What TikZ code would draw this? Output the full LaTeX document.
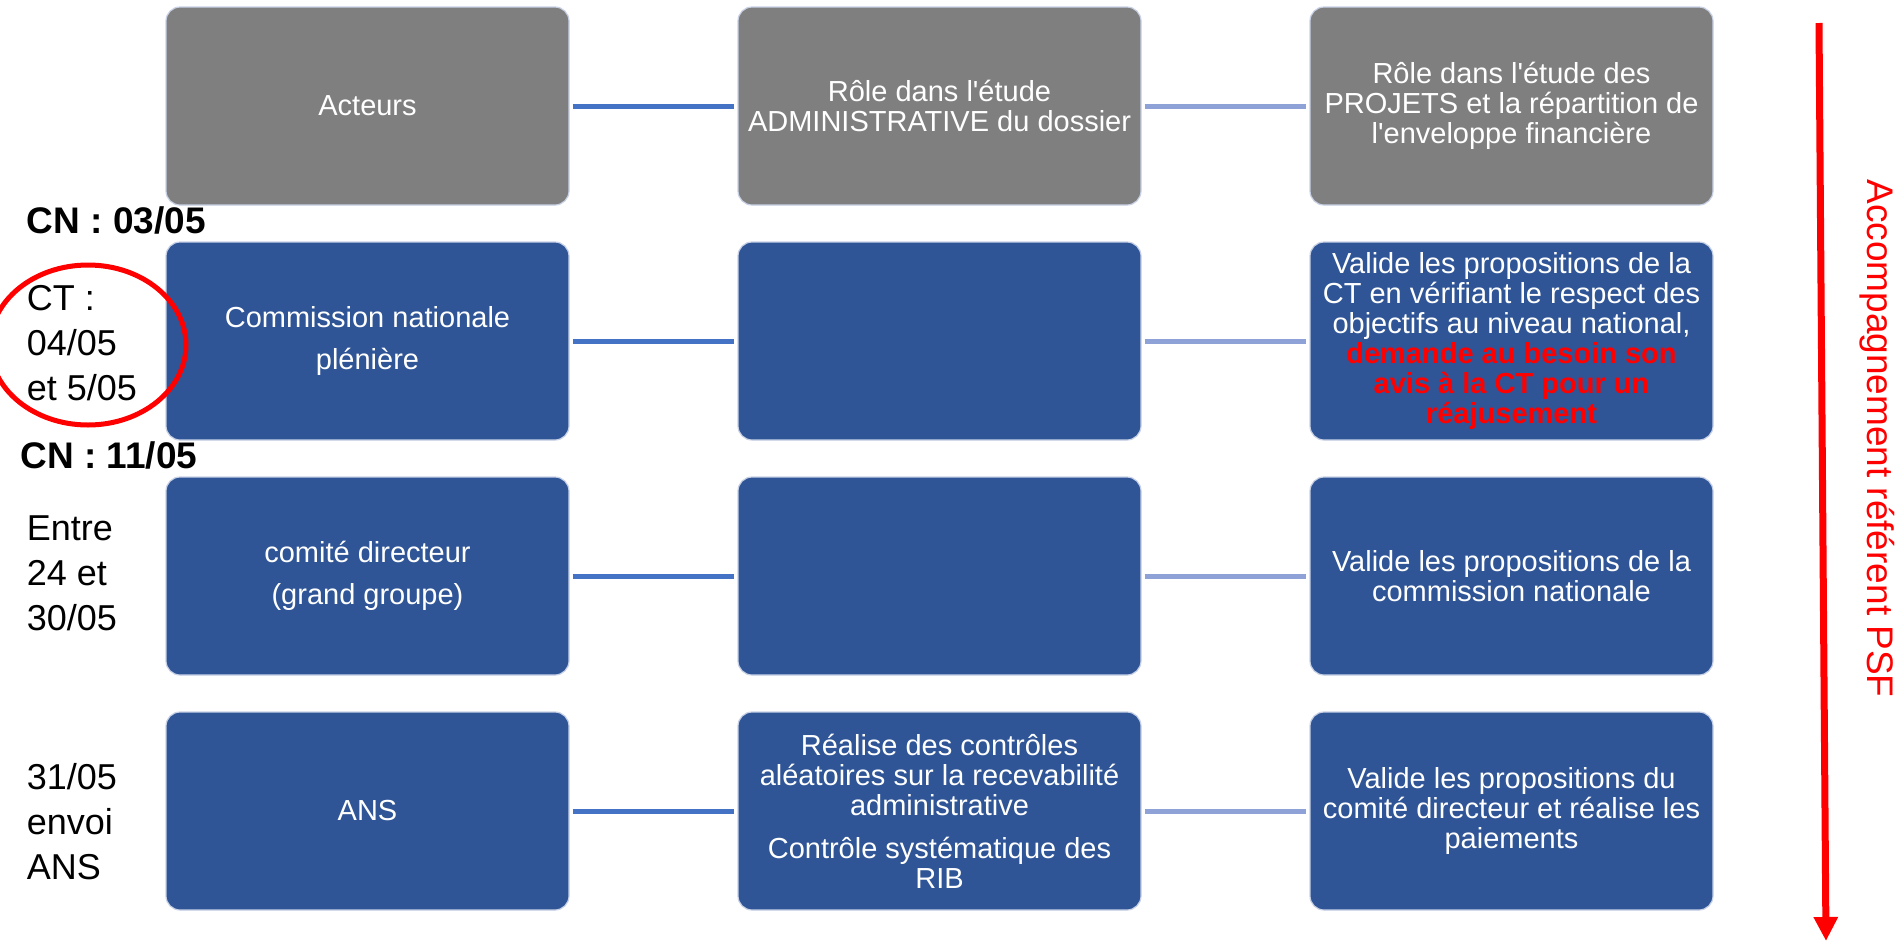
\documentclass[tikz,border=0pt]{standalone}
\usepackage{fontspec}
\setmainfont{Liberation Sans}
\usetikzlibrary{arrows.meta,shapes.geometric}
\definecolor{boxgray}{HTML}{7F7F7F}
\definecolor{boxblue}{HTML}{2F5597}
\definecolor{edgec}{HTML}{C8D1E6}
\definecolor{connA}{HTML}{4472C4}
\definecolor{connB}{HTML}{8FA2D8}
\begin{document}
\begin{tikzpicture}[x=0.5pt,y=-0.5pt,
 card/.style={rectangle, rounded corners=7pt, minimum width=201.5pt, minimum height=99pt, inner sep=0pt, draw=edgec, line width=0.6pt, text=white, align=center, font=\fontsize{14.5}{15}\selectfont},
 graycard/.style={card, fill=boxgray},
 bluecard/.style={card, fill=boxblue},
 actor/.style={font=\fontsize{14.5}{21}\selectfont},
 linkA/.style={draw=connA, line width=2.5pt, shorten <=1.5pt, shorten >=1.5pt},
 linkB/.style={draw=connB, line width=2.5pt, shorten <=1.5pt, shorten >=1.5pt},
 datelbl/.style={anchor=north west, inner sep=0pt, align=left, font=\fontsize{18}{22.5}\selectfont},
 cnlbl/.style={anchor=base west, inner sep=0pt, font=\bfseries\fontsize{18.5}{22}\selectfont},
 redtxt/.style={text=red, font=\fontsize{18.5}{22}\selectfont},
]
\useasboundingbox (0,0) rectangle (1903,943);

% row 1
\node[graycard] (a1) at (367.5,106) {Acteurs};
\node[graycard] (b1) at (939.5,106) {Rôle dans l\textquotesingle étude\\ADMINISTRATIVE du dossier};
\node[graycard] (c1) at (1511.5,106) {Rôle dans l\textquotesingle étude des\\PROJETS et la répartition de\\l\textquotesingle enveloppe financière};
% row 2
\node[bluecard, actor] (a2) at (367.5,341) {Commission nationale\\plénière};
\node[bluecard] (b2) at (939.5,341) {};
\node[bluecard] (c2) at (1511.5,341) {Valide les propositions de la\\CT en vérifiant le respect des\\objectifs au niveau national,\\\textcolor{red}{\textbf{demande au besoin son}}\\\textcolor{red}{\textbf{avis à la CT pour un}}\\\textcolor{red}{\textbf{réajusement}}};
% row 3
\node[bluecard, actor] (a3) at (367.5,576) {comité directeur\\(grand groupe)};
\node[bluecard] (b3) at (939.5,576) {};
\node[bluecard] (c3) at (1511.5,576) {Valide les propositions de la\\commission nationale};
% row 4
\node[bluecard, actor] (a4) at (367.5,811) {ANS};
\node[bluecard] (b4) at (939.5,811) {Réalise des contrôles\\aléatoires sur la recevabilité\\administrative\\[6.5pt]Contrôle systématique des\\RIB};
\node[bluecard] (c4) at (1511.5,811) {Valide les propositions du\\comité directeur et réalise les\\paiements};

% connectors
\foreach \r in {1,2,3,4}{
  \draw[linkA] (a\r.east) -- (b\r.west);
  \draw[linkB] (b\r.east) -- (c\r.west);
}

% left labels
\node[cnlbl] (cn1) at (26.5,233) {CN : 03/05};
\node[cnlbl] (cn2) at (20,468) {CN : 11/05};
\node[datelbl] (ct) at (26.5,285) {CT :\\04/05\\et 5/05};
\node[datelbl] (entre) at (26.5,515) {Entre\\24 et\\30/05};
\node[datelbl] (envoi) at (26.5,763) {31/05\\envoi\\ANS};
\node[draw=red, line width=2.5pt, ellipse, minimum width=98pt, minimum height=80pt, inner sep=0pt] (ring) at (88,345) {};

% right arrow and label
\coordinate (arrtop) at (1819,23);
\coordinate (arrbot) at (1826,941);
\draw[red, line width=3.5pt, -{Triangle[width=11.5pt,length=12pt]}] (arrtop) -- (arrbot);
\node[redtxt, rotate=-90, anchor=base] (psf) at (1867,438.5) {Accompagnement référent PSF};
\end{tikzpicture}
\end{document}
